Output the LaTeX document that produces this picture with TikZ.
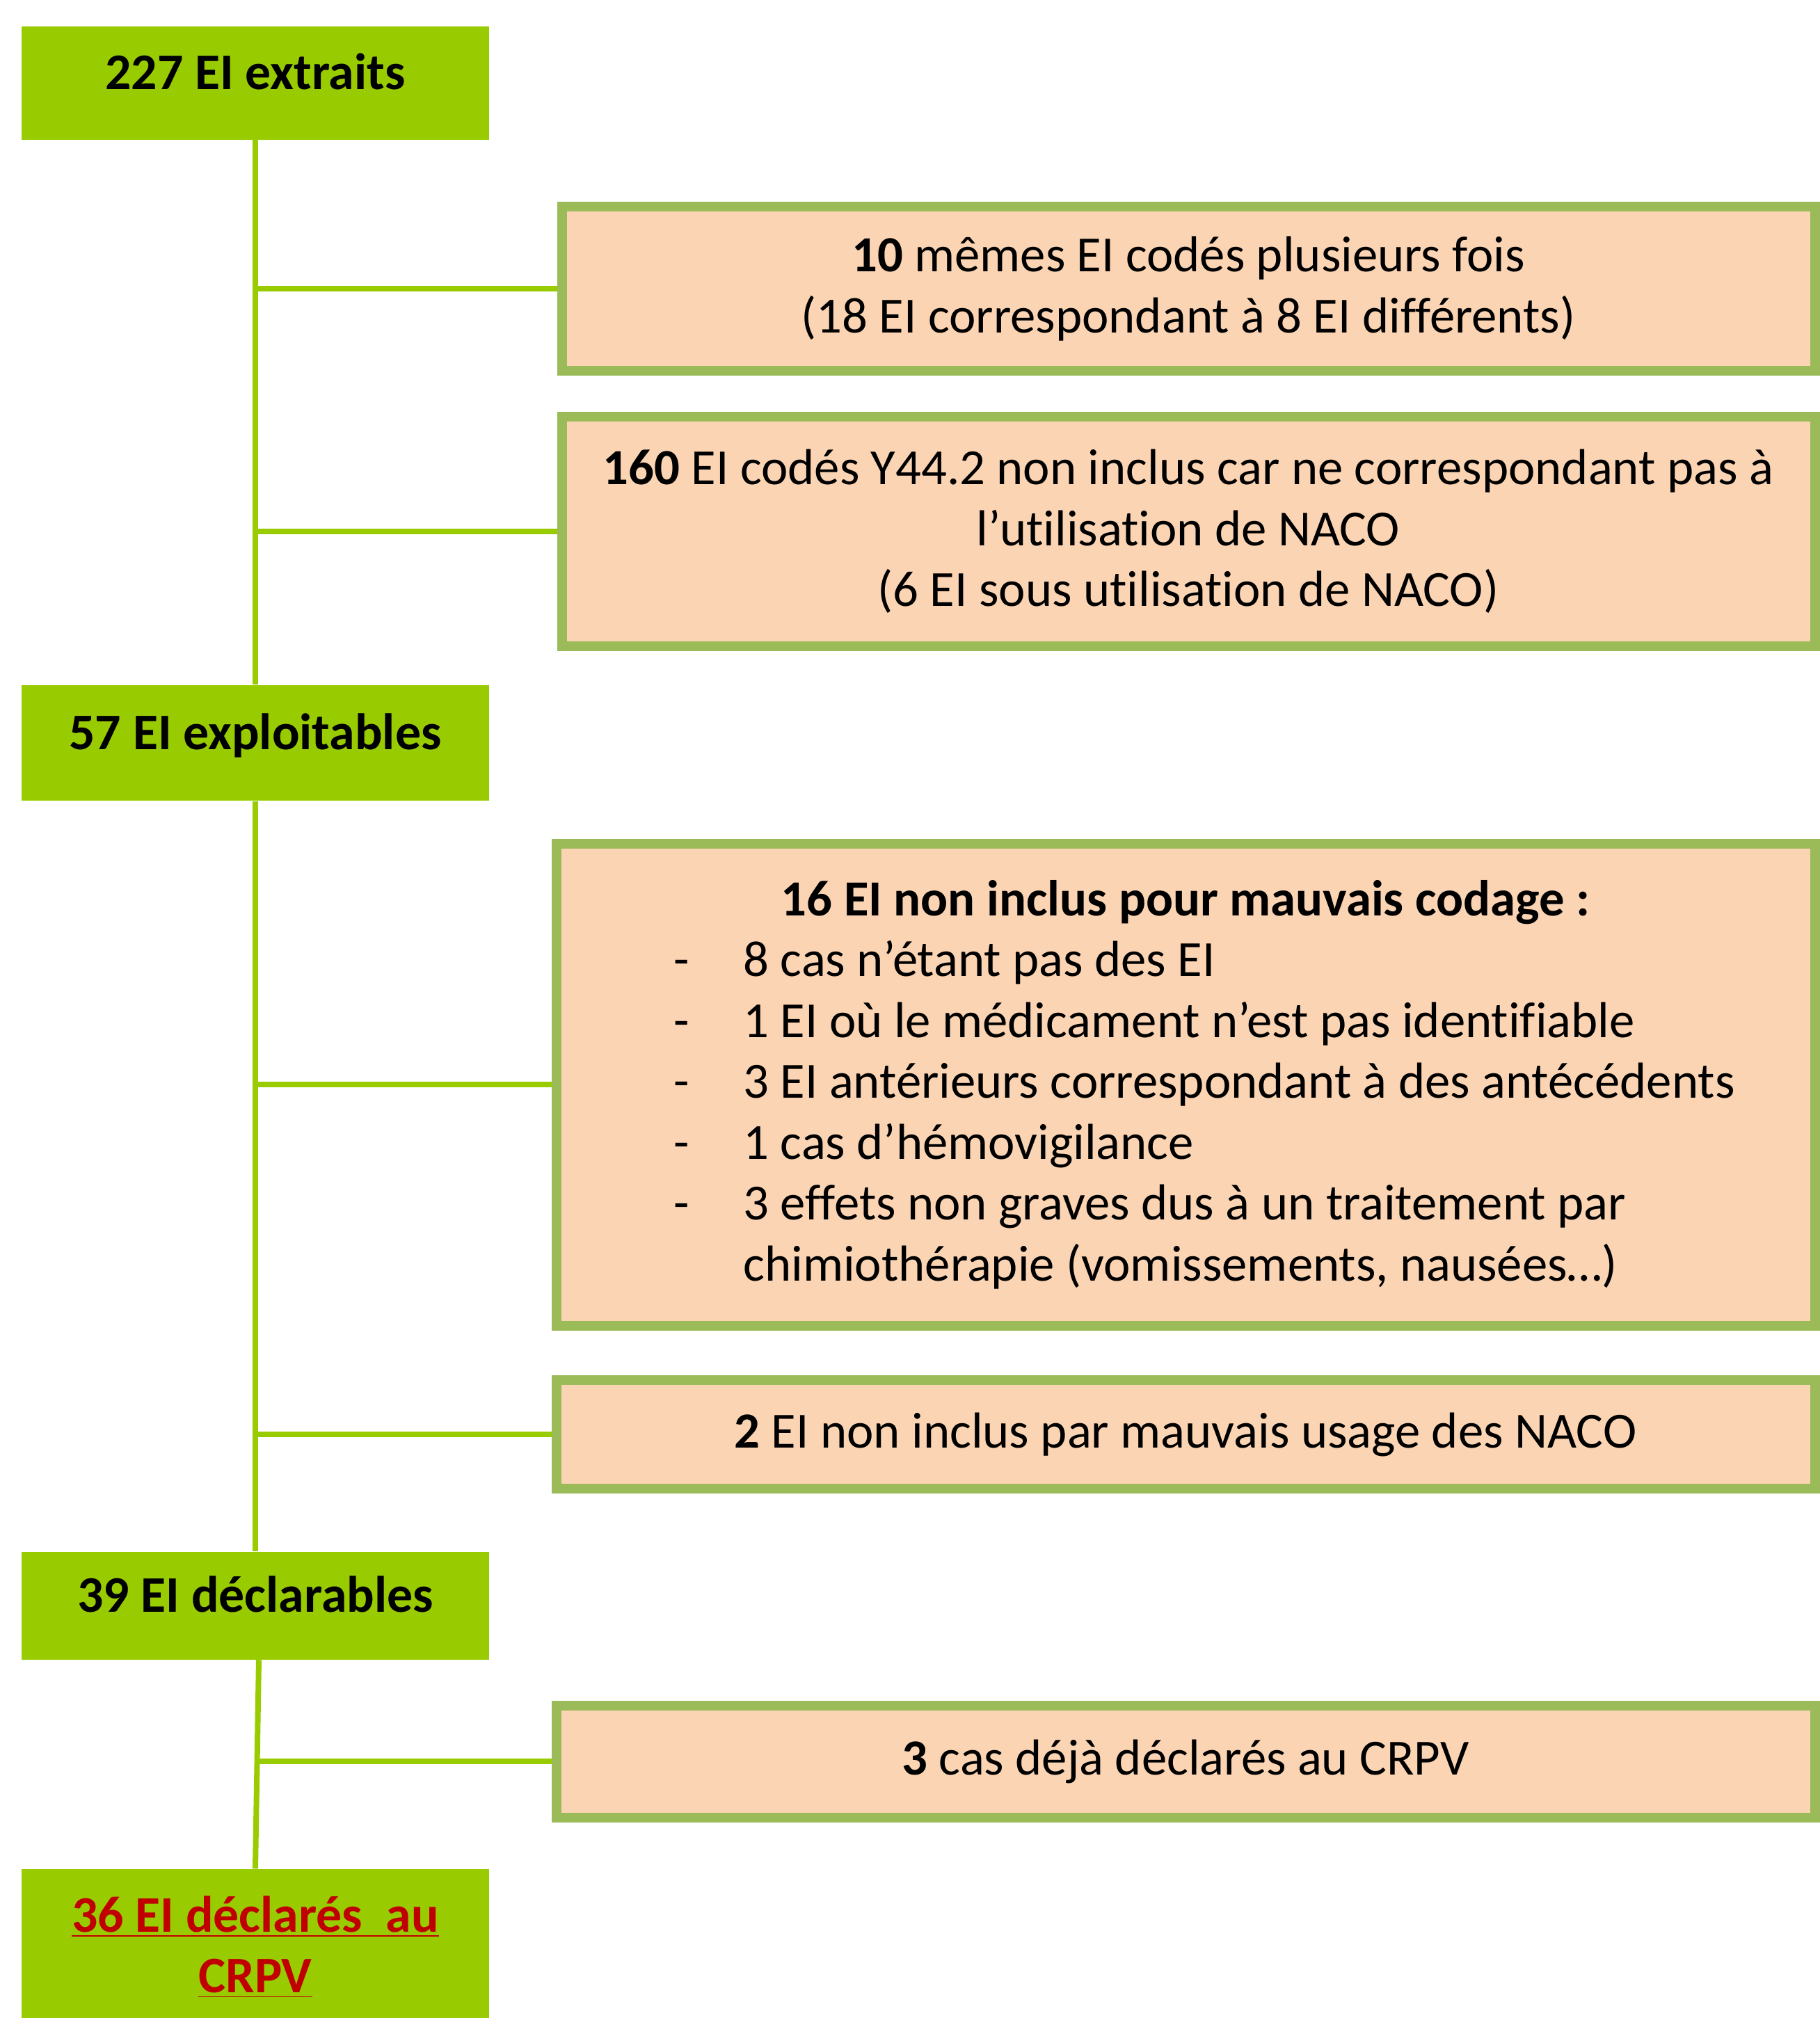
\documentclass[tikz,border=0pt]{standalone}
\usepackage{fontspec}
\setmainfont[Ligatures={TeX,NoCommon}]{Carlito}
\usetikzlibrary{arrows.meta}
\definecolor{leafgreen}{HTML}{99CC00}
\definecolor{olivegreen}{HTML}{9BBB59}
\definecolor{peach}{HTML}{FBD4B4}
\definecolor{darkred}{HTML}{C00000}

\begin{document}
\begin{tikzpicture}[font=\fontsize{20.7}{24.9}\selectfont]
\useasboundingbox (0,0) rectangle (26.15,-29.01);
\begin{scope}[every node/.style={rectangle,fill=leafgreen,inner sep=0pt,
              minimum width=6.72cm,align=center,
              font=\fontsize{21}{24.9}\selectfont\bfseries},
              oneline/.style={text height=0.5cm,text depth=0.31cm}]
    \node[oneline,minimum height=1.63cm] (e227) at (3.67, -1.19) {227 EI extraits};
    \node[oneline,minimum height=1.66cm] (e57) at (3.67, -10.68) {57 EI exploitables};
    \node[oneline,minimum height=1.55cm] (e39) at (3.67, -23.08) {39 EI déclarables};
    \node[minimum height=2.24cm,text=darkred] (e36) at (3.67, -27.99)
        {\underline{36 EI déclarés\ \ au}\\\underline{CRPV}};
\end{scope}
\begin{scope}[every node/.style={rectangle,draw=olivegreen,line width=0.14cm,
              fill=peach,inner sep=0pt,align=center}]
    \node[minimum width=18.01cm,minimum height=2.36cm] (b10) at (17.08, -4.15)
        {\textbf{10} mêmes EI codés plusieurs fois\\(18 EI correspondant à 8 EI différents)};
    \node[minimum width=18.01cm,minimum height=3.30cm] (b160) at (17.08, -7.64)
        {\textbf{160} EI codés Y44.2 non inclus car ne correspondant pas à\\l’utilisation de NACO\\(6 EI sous utilisation de NACO)};
    \node[minimum width=18.09cm,minimum height=6.93cm,text width=17cm,align=left] (b16) at (17.04, -15.59)
        {\spaceskip=\fontdimen2\font
         \makebox[17cm]{\bfseries 16 EI non inclus pour mauvais codage :}\\
         \hspace*{1.145cm}\makebox[1cm][l]{-}8 cas n’étant pas des EI\\
         \hspace*{1.145cm}\makebox[1cm][l]{-}1 EI où le médicament n’est pas identifiable\\
         \hspace*{1.145cm}\makebox[1cm][l]{-}3 EI antérieurs correspondant à des antécédents\\
         \hspace*{1.145cm}\makebox[1cm][l]{-}1 cas d’hémovigilance\\
         \hspace*{1.145cm}\makebox[1cm][l]{-}3 effets non graves dus à un traitement par\\
         \hspace*{2.145cm}chimiothérapie (vomissements, nausées…)};
    \node[minimum width=18.09cm,minimum height=1.56cm] (b2) at (17.04, -20.62)
        {\textbf{2} EI non inclus par mauvais usage des NACO};
    \node[minimum width=18.09cm,minimum height=1.61cm] (b3) at (17.04, -25.32)
        {\textbf{3} cas déjà déclarés au CRPV};
\end{scope}
\begin{scope}[trunk/.style={draw=leafgreen,line width=0.08cm}]
    \path (e227) edge [trunk] (e57);
    \path (e57) edge [trunk] (e39);
    \path ([xshift=0.05cm]e39.south) edge [trunk] (e36.north);
    \path (e227 |- b10) edge [trunk] (b10);
    \path (e227 |- b160) edge [trunk] (b160);
    \path (e57 |- b16) edge [trunk] (b16);
    \path (e57 |- b2) edge [trunk] (b2);
    \path (e39 |- b3) edge [trunk] (b3);
\end{scope}
\end{tikzpicture}
\end{document}
